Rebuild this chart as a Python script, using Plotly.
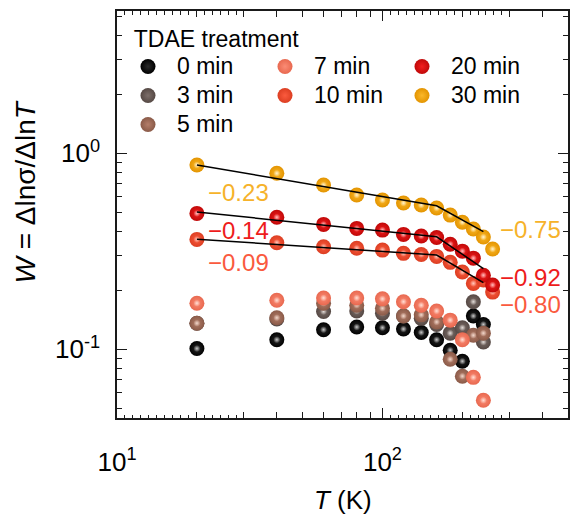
import numpy as np
import plotly.graph_objects as go

# Temperature grid (K)
temperature = [20, 40, 60, 80, 100, 120, 140, 160, 180, 200, 220, 240, 260]

# W = dln(sigma)/dln(T) for each TDAE treatment time
series_names = ["0 min", "3 min", "5 min", "7 min", "10 min", "20 min", "30 min"]
w_0min = [0.101, 0.112, 0.126, 0.130, 0.129, 0.127, 0.122, 0.112, 0.099, 0.087, 0.148, 0.134]
w_3min = [0.136, 0.143, 0.156, 0.157, 0.153, 0.148, 0.144, 0.134, 0.121, 0.129, 0.175, 0.109]
w_5min = [0.136, 0.145, 0.172, 0.168, 0.162, 0.148, 0.150, 0.138, 0.089, 0.073, 0.118, 0.121]
w_7min = [0.172, 0.178, 0.183, 0.183, 0.181, 0.175, 0.168, 0.157, 0.141, 0.112, 0.072, 0.055]
w_10min = [0.364, 0.350, 0.334, 0.328, 0.321, 0.309, 0.305, 0.298, 0.278, 0.248, 0.217, 0.226, 0.196]
w_20min = [0.494, 0.472, 0.434, 0.414, 0.406, 0.386, 0.379, 0.372, 0.344, 0.317, 0.292, 0.239, 0.213]
w_30min = [0.872, 0.791, 0.689, 0.613, 0.578, 0.558, 0.545, 0.526, 0.484, 0.445, 0.411, 0.374, 0.325]
series_values = [w_0min, w_3min, w_5min, w_7min, w_10min, w_20min, w_30min]

# Two-regime power-law fits W ~ T^slope (10, 20, 30 min)
fit_series = ["10 min", "20 min", "30 min"]
fit_w_at_start = [0.365, 0.502, 0.872]
slope_low = [-0.09, -0.14, -0.23]
slope_high = [-0.80, -0.92, -0.75]
t_start, t_break, t_end = 20, 160, 240

# Axis tick labels
x_tick_vals = [10, 100]
x_tick_text = ["10<sup>1</sup>", "10<sup>2</sup>"]
y_tick_vals = [0.1, 1]
y_tick_text = ["10<sup>-1</sup>", "10<sup>0</sup>"]

# Styling
FONT = "Liberation Sans, Arial, sans-serif"
NBSP = "\u00a0"
# (rim colour, body colour, highlight colour)
ball_style = {
    "0 min": ("#000000", "#2a2a2a", "rgba(200,200,200,1)"),
    "3 min": ("#554844", "#7d6f6a", "rgba(225,218,214,1)"),
    "5 min": ("#8a5a48", "#b47e6a", "rgba(240,214,202,1)"),
    "7 min": ("#e8684f", "#fb8c75", "rgba(255,222,212,1)"),
    "10 min": ("#dc3e22", "#fb5b3e", "rgba(255,200,188,1)"),
    "20 min": ("#c00808", "#f21e1e", "rgba(255,190,190,1)"),
    "30 min": ("#e39400", "#fbb82a", "rgba(255,242,205,1)"),
}
label_color = {"10 min": "#fa5a3e", "20 min": "#ee1c1c", "30 min": "#f6b22a"}
legend_rank = {"0 min": 1, "7 min": 2, "20 min": 3, "3 min": 4, "10 min": 5, "30 min": 6, "5 min": 7}

fig = go.Figure()

for name, vals in zip(series_names, series_values):
    rim, body, hl = ball_style[name]
    t = temperature[:len(vals)]
    fig.add_trace(go.Scatter(
        x=t, y=vals, mode="markers", legendrank=legend_rank[name],
        name=f"<span style='font-size:23px'>{name}</span>",
        marker=dict(size=15, color=rim, line=dict(width=0),
                    gradient=dict(type="radial", color=body)),
    ))
    fig.add_trace(go.Scatter(
        x=t, y=vals, mode="markers", showlegend=False, hoverinfo="skip",
        marker=dict(size=7, color=hl.replace(",1)", ",0)"), line=dict(width=0),
                    gradient=dict(type="radial", color=hl)),
    ))

# Fit lines from the stated slopes
for name, w0, s1, s2 in zip(fit_series, fit_w_at_start, slope_low, slope_high):
    w_break = w0 * (t_break / t_start) ** s1
    w_end = w_break * (t_end / t_break) ** s2
    fig.add_trace(go.Scatter(
        x=[t_start, t_break, t_end], y=[w0, w_break, w_end], mode="lines",
        line=dict(color="black", width=1.5), showlegend=False, hoverinfo="skip",
    ))

# Slope labels: (series, slope, T position, W position)
slope_labels = [
    ("30 min", slope_low[2], 21.7, 0.635),
    ("20 min", slope_low[1], 21.7, 0.406),
    ("10 min", slope_low[0], 21.7, 0.279),
    ("30 min", slope_high[2], 271.6, 0.411),
    ("20 min", slope_high[1], 271.6, 0.232),
    ("10 min", slope_high[0], 271.6, 0.170),
]
for name, s, tx, wy in slope_labels:
    fig.add_annotation(
        x=np.log10(tx), y=np.log10(wy), xref="x", yref="y",
        text=f"{s:.2f}".replace("-", "\u2212"), showarrow=False,
        xanchor="left", yanchor="middle",
        font=dict(family=FONT, size=24, color=label_color[name]),
    )

# Axis titles
fig.add_annotation(
    x=0.5, y=-0.2015, xref="paper", yref="paper", showarrow=False,
    text="<i>T</i> (K)", xanchor="center", yanchor="middle",
    font=dict(family=FONT, size=26, color="black"),
)
fig.add_annotation(
    x=-0.203, y=0.555, xref="paper", yref="paper", showarrow=False,
    text="<i>W</i> = \u0394ln\u03c3/\u0394ln<i>T</i>", textangle=-90,
    xanchor="center", yanchor="middle",
    font=dict(family=FONT, size=28, color="black"),
)

# Fine tick marks drawn on an overlay axis
fine_ticks = [10 ** (d + k * 0.03) for d in (1, 2) for k in range(1, 16) if k != 10]
fig.add_trace(go.Scatter(x=[], y=[], xaxis="x2", showlegend=False, hoverinfo="skip"))

axis_common = dict(
    showgrid=False, zeroline=False, showline=True, linecolor="#1a1a1a", linewidth=1.5,
    mirror="ticks", ticks="inside", tickcolor="#1a1a1a", tickwidth=1.3, ticklen=10,
)

fig.update_layout(
    width=571, height=517,
    margin=dict(l=117, r=1, t=11, b=99),
    paper_bgcolor="white", plot_bgcolor="white",
    font=dict(family=FONT, color="black"),
    xaxis=dict(
        type="log", range=[1, np.log10(500)], tickmode="array",
        tickvals=x_tick_vals, ticktext=x_tick_text,
        tickfont=dict(size=26, family=FONT), ticklabelstandoff=20,
        minor=dict(ticks="inside", ticklen=6, tickwidth=1.2, tickcolor="#1a1a1a",
                   tickmode="array", tickvals=[20, 30, 40, 50, 60, 70, 80, 90, 200, 300, 400]),
        **axis_common,
    ),
    xaxis2=dict(
        type="log", range=[1, np.log10(500)], overlaying="x", anchor="y", side="bottom",
        tickmode="array", tickvals=fine_ticks, showticklabels=False,
        ticks="inside", ticklen=3.5, tickwidth=1, tickcolor="#1a1a1a",
        showline=False, mirror="ticks", showgrid=False, zeroline=False,
    ),
    yaxis=dict(
        type="log", range=[-1.35, 0.726], tickmode="array",
        tickvals=y_tick_vals, ticktext=y_tick_text,
        tickfont=dict(size=26, family=FONT), ticklabelstandoff=10,
        minor=dict(ticks="inside", ticklen=5, tickwidth=1.2, tickcolor="#1a1a1a",
                   tickmode="array",
                   tickvals=[0.05, 0.06, 0.07, 0.08, 0.09, 0.2, 0.3, 0.4, 0.5, 0.6,
                             0.7, 0.8, 0.9, 2, 3, 4, 5]),
        **axis_common,
    ),
    legend=dict(
        orientation="h", x=0.0044, y=0.985, xanchor="left", yanchor="top",
        entrywidth=74, entrywidthmode="pixels",
        bgcolor="rgba(0,0,0,0)", borderwidth=0,
        font=dict(family=FONT, size=20, color="black"),
        title=dict(text=NBSP * 2 + "TDAE treatment", side="top", font=dict(family=FONT, size=23)),
        tracegroupgap=0, itemwidth=48,
    ),
    showlegend=True,
)

fig.write_html("out.html")
